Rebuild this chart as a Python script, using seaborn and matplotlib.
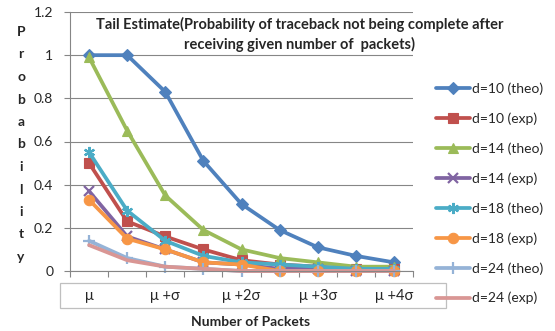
import matplotlib
matplotlib.use("Agg")
import matplotlib.pyplot as plt
from matplotlib.patches import Rectangle
import numpy as np
import pandas as pd
import seaborn as sns

# Category axis (packets received) and the labelled positions on it
positions = list(range(9))
tick_labels = ["μ", "μ +σ", "μ +2σ", "μ +3σ", "μ +4σ"]
tick_label_positions = [0, 2, 4, 6, 8]

# Tail probabilities per series
d10_theo = [1.00, 1.00, 0.83, 0.51, 0.31, 0.19, 0.11, 0.07, 0.04]
d10_exp = [0.50, 0.23, 0.16, 0.10, 0.05, 0.03, 0.02, 0.01, 0.01]
d14_theo = [0.99, 0.65, 0.35, 0.19, 0.10, 0.06, 0.04, 0.02, 0.02]
d14_exp = [0.37, 0.16, 0.10, 0.04, 0.03, 0.01, 0.01, 0.00, 0.00]
d18_theo = [0.55, 0.28, 0.14, 0.07, 0.04, 0.03, 0.02, 0.01, 0.01]
d18_exp = [0.33, 0.15, 0.10, 0.04, 0.03, 0.00, 0.00, 0.00, 0.00]
d24_theo = [0.14, 0.06, 0.02, 0.01, 0.00, 0.00, 0.00, 0.00, 0.00]
d24_exp = [0.12, 0.05, 0.02, 0.01, 0.00, 0.00, 0.00, 0.00, 0.00]

series_names = ["d=10 (theo)", "d=10 (exp)", "d=14 (theo)", "d=14 (exp)",
                "d=18 (theo)", "d=18 (exp)", "d=24 (theo)", "d=24 (exp)"]
series_values = [d10_theo, d10_exp, d14_theo, d14_exp,
                 d18_theo, d18_exp, d24_theo, d24_exp]
colors = ["#4F81BD", "#C0504D", "#9BBB59", "#8064A2",
          "#4BACC6", "#F79646", "#95B3D7", "#D99694"]
markers = ["D", "s", "^", "x", (6, 2, 0), "o", "+", None]
msizes = [6.5, 7, 7.5, 7, 8, 7.5, 8, 0]

frames = [pd.DataFrame({"pos": positions, "prob": vals, "series": name})
          for name, vals in zip(series_names, series_values)]
df = pd.concat(frames, ignore_index=True)

sns.set_theme(style="white")
plt.rcParams["font.family"] = ["Lato", "DejaVu Sans"]

fig = plt.figure(figsize=(5.55, 3.31), dpi=100)
W, H = 555, 331
ax = fig.add_axes([70 / W, 1 - 271 / H, (413 - 70) / W, (271 - 12) / H])

grid_c = "#868686"
for name, col, mk, ms in zip(series_names, colors, markers, msizes):
    sub = df[df["series"] == name]
    sns.lineplot(data=sub, x="pos", y="prob", ax=ax, color=col, marker=mk,
                 markersize=ms, markeredgewidth=1.6 if mk in ("x", "+", (6, 2, 0)) else 0.8,
                 markeredgecolor=col, linewidth=2.7, label=name, clip_on=False,
                 errorbar=None)

ax.set_xlim(-0.5, 8.5)
ax.set_ylim(0, 1.2)
ax.set_yticks(np.arange(0, 1.21, 0.2))
ax.set_yticklabels(["0", "0.2", "0.4", "0.6", "0.8", "1", "1.2"], fontsize=10)
ax.yaxis.grid(True, color=grid_c, linewidth=0.8)
ax.set_axisbelow(True)

# Tick marks at category boundaries, labels under every other category
ax.set_xticks(np.arange(-0.5, 8.6, 1.0))
ax.set_xticklabels([])
ax.set_xticks(tick_label_positions, minor=True)
ax.set_xticklabels(tick_labels, minor=True, fontsize=10.5)
ax.tick_params(axis="x", which="major", direction="out", length=4, width=0.8,
               color=grid_c, bottom=True)
ax.tick_params(axis="x", which="minor", length=0, pad=13)
ax.tick_params(axis="y", direction="out", length=4, width=0.8, color=grid_c,
               left=True, pad=8)
ax.set_xlabel("")
ax.set_ylabel("")

for s in ["top", "right"]:
    ax.spines[s].set_visible(False)
for s in ["left", "bottom"]:
    ax.spines[s].set_color(grid_c)
    ax.spines[s].set_linewidth(0.8)

# Box around the category labels
fig.patches.append(Rectangle((60 / W, 1 - 308 / H), (446 - 60) / W, 25 / H,
                             transform=fig.transFigure, facecolor="none",
                             edgecolor="#BFBFBF", linewidth=0.9, zorder=5))

# Title over the plot area
fig.text(300 / W, 1 - 24 / H,
         "Tail Estimate(Probability of traceback not being complete after",
         ha="center", va="center", fontsize=10.5, fontweight="bold",
         bbox=dict(facecolor="white", edgecolor="none", pad=0.5))
fig.text(300 / W, 1 - 44 / H, "receiving given number of  packets)",
         ha="center", va="center", fontsize=10.5, fontweight="bold",
         bbox=dict(facecolor="white", edgecolor="none", pad=0.5))

# Axis titles
fig.text(251 / W, 1 - 322 / H, "Number of Packets", ha="center", va="center",
         fontsize=10, fontweight="bold")
for i, ch in enumerate("Probability"):
    fig.text(21 / W, 1 - (36 + i * 22.5) / H, ch, ha="center",
             va="baseline", fontsize=10, fontweight="bold")

# Legend on the right
handles, labels = ax.get_legend_handles_labels()
if ax.get_legend():
    ax.get_legend().remove()
fig.legend(handles, labels, loc="upper left",
           bbox_to_anchor=(430 / W, 1 - 77 / H), frameon=False,
           fontsize=10, handlelength=2.45, handletextpad=0.15,
           labelspacing=1.25, numpoints=1, borderaxespad=0)

fig.savefig("out.png", dpi=100)
